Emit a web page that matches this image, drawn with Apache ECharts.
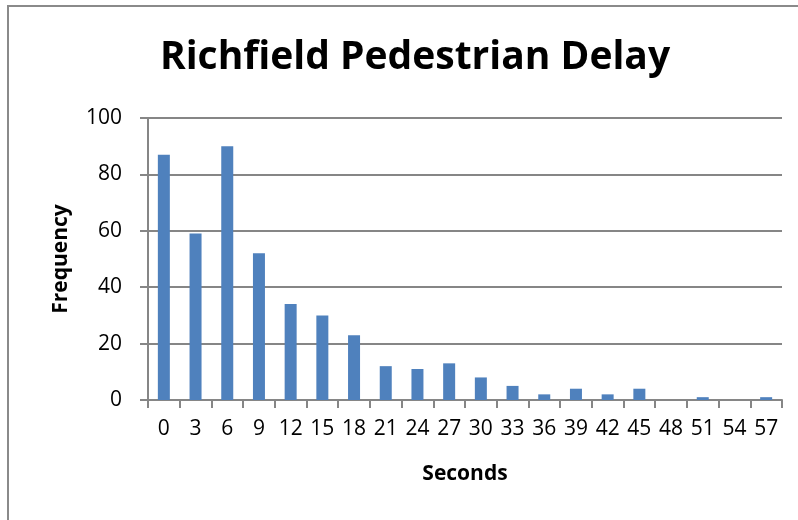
<!DOCTYPE html>
<html>
<head>
<meta charset="utf-8">
<script src="https://cdn.jsdelivr.net/npm/echarts@6/dist/echarts.min.js"></script>
<style>
html,body{margin:0;padding:0;background:#fff;}
#chart{width:798px;height:520px;}
</style>
</head>
<body>
<div id="chart"></div>
<script>
var titleText = 'Richfield Pedestrian Delay';
var xAxisName = 'Seconds';
var yAxisName = 'Frequency';
var categories = ['0','3','6','9','12','15','18','21','24','27','30','33','36','39','42','45','48','51','54','57'];
var frequency = [87,59,90,52,34,30,23,12,11,13,8,5,2,4,2,4,0,1,0,1];

var chart = echarts.init(document.getElementById('chart'));
var axisGray = '#868686';
chart.setOption({
  backgroundColor: '#ffffff',
  animation: false,
  title: {
    text: titleText,
    left: 410,
    top: 33,
    textAlign: 'center',
    textStyle: {fontFamily: 'Open Sans', fontWeight: 'bold', fontSize: 39, color: '#000'}
  },
  graphic: [{
    type: 'polyline',
    shape: {points: [[8, 520], [8, 6], [798, 6]]},
    style: {stroke: '#8a8a8a', lineWidth: 2, fill: null}
  }],
  grid: {left: 148, right: 16, top: 118, bottom: 120},
  xAxis: {
    type: 'category',
    data: categories,
    name: xAxisName,
    nameLocation: 'middle',
    nameGap: 64,
    nameTextStyle: {fontFamily: 'Open Sans', fontWeight: 'bold', fontSize: 21, color: '#000'},
    axisLine: {lineStyle: {color: axisGray, width: 2}},
    axisTick: {show: true, interval: 0, length: 8, lineStyle: {color: axisGray, width: 2}},
    axisLabel: {interval: 0, margin: 19, fontFamily: 'Open Sans', fontSize: 21, color: '#000'}
  },
  yAxis: {
    type: 'value',
    min: 0, max: 100, interval: 20,
    name: yAxisName,
    nameLocation: 'middle',
    nameGap: 76,
    nameTextStyle: {fontFamily: 'Open Sans', fontWeight: 'bold', fontSize: 21, color: '#000'},
    axisLine: {show: true, lineStyle: {color: axisGray, width: 2}},
    axisTick: {show: true, length: 8, lineStyle: {color: axisGray, width: 2}},
    axisLabel: {margin: 26, fontFamily: 'Open Sans', fontSize: 21, color: '#000'},
    splitLine: {show: true, lineStyle: {color: axisGray, width: 2}}
  },
  series: [{
    type: 'bar',
    data: frequency,
    barWidth: 12,
    itemStyle: {color: '#4f81bd'}
  }]
});
</script>
</body>
</html>
